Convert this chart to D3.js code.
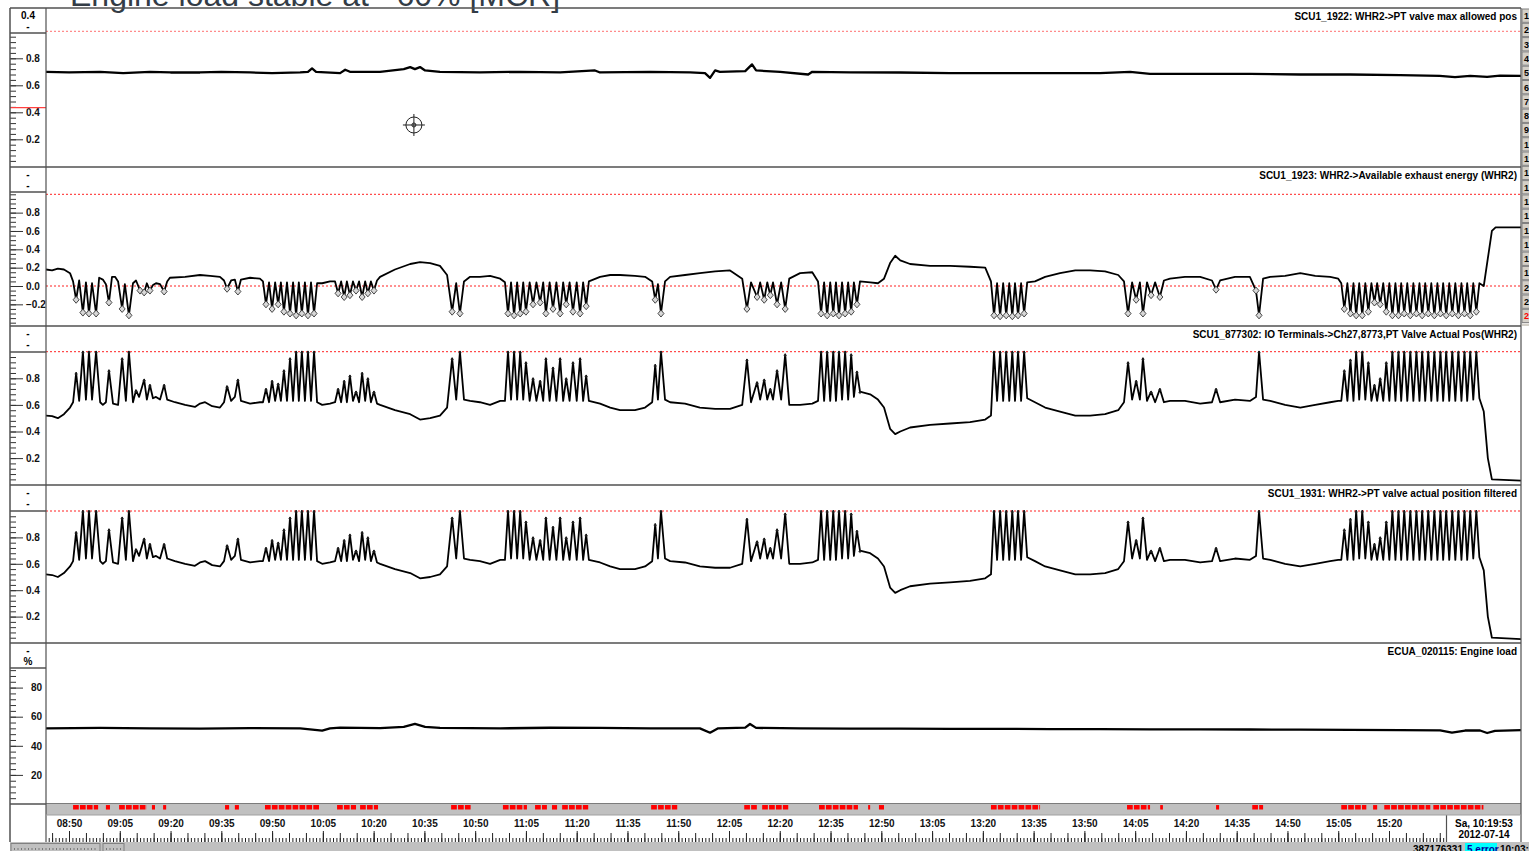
<!DOCTYPE html>
<html>
<head>
<meta charset="utf-8">
<script src="https://cdn.jsdelivr.net/npm/d3@7"></script>
<style>
  body { margin: 0; background: #fff; }
  svg { display: block; font-family: "Liberation Sans", Arial, sans-serif; }
</style>
</head>
<body>
<svg width="1529" height="851"></svg>
<script>
// ---- data: [minutes after 08:00, value] ----
var maxPos = [[43.2,0.70],[50,0.695],[59.2,0.70],[66,0.69],[73.9,0.70],[80,0.695],[88.7,0.695],[95,0.70],[103.5,0.695],[110,0.69],[118.3,0.695],[120.6,0.70],[121.8,0.725],[123.0,0.70],[130.1,0.69],[131.6,0.715],[133.0,0.70],[141.9,0.70],[148.9,0.72],[150.8,0.735],[152.2,0.72],[153.7,0.735],[155.2,0.71],[159.6,0.70],[171.4,0.695],[183.3,0.70],[195.1,0.695],[205.4,0.71],[206.9,0.695],[221.7,0.70],[233.5,0.695],[237.9,0.69],[239.4,0.655],[240.9,0.71],[242.3,0.70],[249.8,0.705],[251.8,0.755],[253.0,0.71],[260.1,0.70],[268.4,0.68],[269.6,0.70],[280.8,0.695],[295.6,0.695],[310.3,0.69],[325.1,0.69],[339.9,0.69],[354.6,0.69],[363.5,0.70],[369.4,0.685],[384.2,0.685],[399.0,0.685],[413.8,0.68],[428.5,0.68],[443.3,0.675],[455.0,0.67],[459.5,0.66],[464.0,0.67],[469.0,0.662],[472.8,0.672],[479.0,0.67]];

var exhaust = [[43.2,0.18],[45.0,0.17],[46.7,0.19],[48.5,0.18],[50.3,0.14],[51.2,0.05],[52.1,-0.15],[53.0,0.06],[54.1,-0.29],[55.0,0.04],[55.9,-0.30],[56.8,0.03],[58.0,-0.30],[58.9,0.09],[60.0,0.07],[60.9,0.02],[61.8,-0.18],[62.7,0.10],[63.6,0.10],[64.5,0.05],[65.7,-0.25],[66.5,0.02],[67.7,-0.32],[68.9,0.03],[69.8,0.06],[71.0,-0.05],[72.2,-0.07],[73.0,0.03],[73.9,-0.05],[74.8,0.01],[75.7,0.03],[76.9,0.02],[78.1,-0.06],[79.0,0.05],[79.8,0.09],[84.3,0.10],[88.7,0.12],[91.7,0.11],[94.6,0.10],[95.8,0.06],[96.7,-0.03],[97.9,0.06],[99.0,0.07],[99.9,-0.06],[100.8,0.07],[103.5,0.09],[106.4,0.08],
  [107.3,0.05],[108.2,-0.20],[109.1,0.04],[110.0,-0.25],[110.9,0.04],[111.8,-0.20],[112.6,0.04],[113.5,-0.28],[114.4,0.04],[115.3,-0.30],[116.2,0.04],[117.1,-0.32],[117.9,0.04],[118.8,-0.30],[119.7,0.04],[120.6,-0.32],[121.5,0.04],[122.4,-0.30],[123.3,0.03],[124.8,0.03],[127.1,0.05],[128.6,0.05],
  [129.5,-0.08],[130.4,0.05],[131.3,-0.12],[132.1,0.05],[133.0,-0.10],[133.9,0.05],[134.8,-0.05],[135.7,0.05],[136.6,-0.12],[137.5,0.05],[138.3,-0.08],[139.2,0.05],[140.1,-0.05],[141.0,0.06],
  [141.9,0.10],[146.3,0.18],[150.8,0.24],[153.7,0.26],[156.7,0.25],[159.6,0.22],[161.7,0.12],
  [163.2,-0.28],[164.4,0.03],[165.5,-0.30],[166.7,0.05],[168.5,0.10],[171.4,0.10],[174.4,0.11],[177.4,0.08],[178.8,0.04],
  [179.7,-0.30],[180.6,0.04],[181.5,-0.32],[182.4,0.04],[183.3,-0.30],[184.2,0.04],[185.0,-0.28],[186.1,0.04],[187.1,-0.20],[188.1,0.04],[189.2,-0.18],[190.1,0.04],[190.9,-0.30],[192.0,0.04],[193.0,-0.25],[194.0,0.04],[195.1,-0.30],[196.0,0.04],[196.9,-0.20],[197.9,0.04],[198.9,-0.28],[200.0,0.04],[201.0,-0.30],[201.9,0.04],[202.8,-0.22],[203.6,0.05],
  [206.9,0.10],[209.9,0.12],[212.8,0.12],[217.2,0.11],[220.2,0.10],[222.3,0.05],
  [223.2,-0.15],[224.0,0.02],[224.9,-0.30],[226.1,0.05],
  [227.6,0.10],[232.0,0.12],[236.4,0.14],[240.9,0.16],[245.3,0.17],[248.9,0.08],
  [250.3,-0.25],[251.5,0.04],[253.3,-0.12],[254.2,0.04],[255.4,-0.15],[256.3,0.04],[257.2,-0.10],[258.0,0.04],[259.2,-0.20],[260.4,0.04],[261.6,-0.25],[262.8,0.08],
  [266.0,0.14],[269.6,0.15],[271.3,0.05],
  [272.2,-0.30],[273.1,0.04],[274.0,-0.32],[274.9,0.04],[275.8,-0.30],[276.6,0.04],[277.5,-0.32],[278.4,0.04],[279.3,-0.30],[280.2,0.04],[281.1,-0.28],[281.9,0.04],[282.8,-0.20],[283.7,0.05],
  [286.7,0.04],[289.0,0.03],[290.8,0.08],[292.6,0.25],[294.1,0.33],[295.6,0.28],[298.5,0.24],[304.4,0.22],[310.3,0.22],[316.2,0.21],[320.7,0.20],[322.4,0.05],
  [323.3,-0.32],[324.2,0.03],[325.1,-0.33],[326.0,0.03],[326.9,-0.32],[327.8,0.03],[328.7,-0.33],[329.5,0.03],[330.4,-0.32],[331.3,0.03],[332.2,-0.30],[333.1,0.04],
  [335.4,0.05],[338.4,0.10],[342.8,0.14],[347.3,0.17],[351.7,0.17],[356.1,0.16],[360.0,0.12],[361.7,0.05],
  [362.9,-0.30],[364.1,0.04],[365.3,-0.15],[366.4,0.04],[367.3,-0.30],[368.5,0.04],[369.7,-0.10],[370.9,0.04],[372.3,-0.12],[373.5,0.06],
  [375.3,0.08],[379.7,0.10],[384.2,0.10],[387.7,0.06],[388.9,-0.04],[390.1,0.06],[394.5,0.10],[398.9,0.10],[400.7,-0.05],[401.6,-0.32],[402.8,0.08],
  [404.9,0.10],[409.3,0.11],[413.8,0.14],[418.2,0.11],[422.6,0.10],[425.0,0.08],
  [425.9,0.03],[426.8,-0.25],[427.7,0.03],[428.6,-0.30],[429.5,0.03],[430.3,-0.32],[431.2,0.03],[432.1,-0.32],[433.0,0.03],[433.9,-0.28],[434.8,0.03],[435.7,-0.18],[436.5,0.03],[437.4,-0.20],[438.3,0.03],[439.2,-0.28],[440.1,0.03],[441.0,-0.32],[441.9,0.03],[442.8,-0.32],[443.6,0.03],[444.5,-0.30],[445.4,0.03],[446.3,-0.32],[447.2,0.03],[448.1,-0.30],[449.0,0.03],[449.8,-0.32],[450.7,0.03],[451.6,-0.30],[452.5,0.03],[453.4,-0.32],[454.3,0.03],[455.2,-0.30],[456.0,0.03],[456.9,-0.32],[457.8,0.03],[458.7,-0.30],[459.6,0.03],[460.5,-0.32],[461.4,0.03],[462.3,-0.30],[463.1,0.03],[464.0,-0.32],[464.9,0.03],[465.8,-0.28],[466.7,0.03],
  [468.0,0.0],[469.2,0.30],[470.4,0.60],[471.5,0.64],[479.0,0.64]];

var valvePos = [[43.2,0.52],[45.0,0.515],[46.7,0.50],[48.5,0.53],[50.3,0.58],[51.2,0.62],
  [52.1,0.84],[53.0,0.63],[54.1,1.0],[55.0,0.64],[55.9,1.0],[56.8,0.64],[58.0,1.0],[59.2,0.62],[60.0,0.60],[60.9,0.62],[61.8,0.86],[63.0,0.61],[64.5,0.60],[65.7,0.95],[66.8,0.63],[67.7,1.0],[68.9,0.62],[69.8,0.71],[70.7,0.66],[72.2,0.79],[73.0,0.64],[73.9,0.75],[74.8,0.65],[75.7,0.66],[76.9,0.64],[78.1,0.75],[79.0,0.64],
  [81.3,0.62],[84.3,0.60],[87.2,0.585],[88.7,0.61],[90.2,0.62],[92.3,0.59],[94.6,0.58],[95.8,0.62],[96.7,0.74],[97.9,0.63],[99.0,0.66],[99.9,0.79],[100.8,0.63],[103.5,0.61],[106.4,0.62],
  [107.3,0.62],[108.2,0.72],[109.1,0.62],[110.0,0.78],[110.9,0.63],[111.8,0.76],[112.6,0.63],[113.5,0.86],[114.4,0.63],[115.3,0.95],[116.2,0.63],[117.1,1.0],[117.9,0.63],[118.8,1.0],[119.7,0.63],[120.6,1.0],[121.5,0.63],[122.4,1.0],[123.3,0.62],
  [124.8,0.60],[127.1,0.61],[128.6,0.62],
  [129.5,0.72],[130.4,0.62],[131.3,0.78],[132.1,0.62],[133.0,0.82],[133.9,0.63],[134.8,0.70],[135.7,0.62],[136.6,0.84],[137.5,0.63],[138.3,0.80],[139.2,0.62],[140.1,0.70],[141.0,0.61],
  [141.9,0.60],[146.3,0.56],[150.8,0.53],[153.7,0.49],[156.7,0.50],[159.6,0.52],[161.7,0.58],
  [163.2,0.95],[164.4,0.64],[165.5,1.0],[166.7,0.64],[168.5,0.63],[171.4,0.62],[174.4,0.60],[177.4,0.63],[178.8,0.63],
  [179.7,1.0],[180.6,0.64],[181.5,1.0],[182.4,0.64],[183.3,1.0],[184.2,0.64],[185.0,0.92],[186.1,0.63],[187.1,0.80],[188.1,0.63],[189.2,0.78],[190.1,0.63],[190.9,0.95],[192.0,0.63],[193.0,0.88],[194.0,0.63],[195.1,0.95],[196.0,0.63],[196.9,0.80],[197.9,0.63],[198.9,0.92],[200.0,0.63],[201.0,0.95],[201.9,0.63],[202.8,0.82],[203.6,0.63],
  [206.9,0.61],[209.9,0.58],[212.8,0.56],[217.2,0.56],[220.2,0.58],[222.3,0.62],
  [223.2,0.90],[224.0,0.64],[224.9,1.0],[226.1,0.64],
  [227.6,0.62],[232.0,0.61],[236.4,0.58],[240.9,0.57],[245.3,0.57],[248.9,0.60],
  [250.3,0.94],[251.5,0.62],[253.3,0.77],[254.2,0.64],[255.4,0.79],[256.3,0.64],[257.2,0.72],[258.0,0.64],[259.2,0.86],[260.4,0.64],[261.6,0.98],[262.8,0.60],
  [266.0,0.60],[269.6,0.61],[271.3,0.63],
  [272.2,1.0],[273.1,0.63],[274.0,1.0],[274.9,0.63],[275.8,1.0],[276.6,0.63],[277.5,1.0],[278.4,0.64],[279.3,1.0],[280.2,0.64],[281.1,0.98],[281.9,0.66],[282.8,0.85],[283.7,0.70],
  [286.7,0.68],[289.0,0.64],[290.8,0.58],[292.6,0.42],[294.1,0.38],[295.6,0.40],[298.5,0.43],[304.4,0.45],[310.3,0.46],[316.2,0.47],[320.7,0.49],[322.4,0.52],
  [323.3,1.0],[324.2,0.63],[325.1,1.0],[326.0,0.63],[326.9,1.0],[327.8,0.63],[328.7,1.0],[329.5,0.63],[330.4,1.0],[331.3,0.63],[332.2,1.0],[333.1,0.65],
  [335.4,0.62],[338.4,0.58],[342.8,0.55],[347.3,0.52],[351.7,0.52],[356.1,0.53],[360.0,0.56],[361.7,0.62],
  [362.9,0.92],[364.1,0.64],[365.3,0.78],[366.4,0.64],[367.3,0.95],[368.5,0.63],[369.7,0.70],[370.9,0.62],[372.3,0.72],[373.5,0.62],
  [375.3,0.63],[379.7,0.63],[384.2,0.61],[387.7,0.62],[388.9,0.72],[390.1,0.62],[394.5,0.64],[398.9,0.63],[400.7,0.66],[401.6,1.0],[402.8,0.64],
  [404.9,0.63],[409.3,0.60],[413.8,0.58],[418.2,0.60],[422.6,0.62],[425.0,0.63],
  [425.9,0.63],[426.8,0.86],[427.7,0.63],[428.6,0.94],[429.5,0.63],[430.3,1.0],[431.2,0.64],[432.1,1.0],[433.0,0.64],[433.9,0.92],[434.8,0.63],[435.7,0.75],[436.5,0.63],[437.4,0.80],[438.3,0.63],[439.2,0.92],[440.1,0.63],[441.0,1.0],[441.9,0.63],[442.8,1.0],[443.6,0.63],[444.5,1.0],[445.4,0.63],[446.3,1.0],[447.2,0.63],[448.1,1.0],[449.0,0.63],[449.8,1.0],[450.7,0.63],[451.6,1.0],[452.5,0.63],[453.4,1.0],[454.3,0.63],[455.2,1.0],[456.0,0.63],[456.9,1.0],[457.8,0.63],[458.7,1.0],[459.6,0.63],[460.5,1.0],[461.4,0.63],[462.3,1.0],[463.1,0.63],[464.0,1.0],[464.9,0.64],[465.8,1.0],[466.7,0.65],
  [468.0,0.55],[469.2,0.20],[470.4,0.04],[479.0,0.03]];

// the filtered channel reads the same as the raw one at this resolution
var valveFilt = valvePos;

var engineLoad = [[43.2,52],[59.2,52.3],[73.9,52],[88.7,51.8],[103.5,52.2],[118.3,52],[124.8,50.5],[127.1,52],[130.1,52.5],[141.9,52.2],[148.9,53],[152.2,55],[155.2,53],[159.6,52.3],[177.4,52],[192.1,52.4],[206.9,52.3],[221.7,52],[236.4,52],[239.4,49],[241.8,52],[249.8,52.5],[251.2,55],[253.0,52.3],[266.0,52],[280.8,51.8],[295.6,51.8],[310.3,51.6],[325.1,51.7],[339.9,51.5],[354.6,51.5],[369.4,51.3],[384.2,51.3],[399.0,51.2],[413.8,51.1],[428.5,51.0],[443.3,50.8],[455.1,50.6],[458.6,49.0],[462.5,50.5],[466.9,50.5],[469.0,48.8],[471.3,50.3],[479.0,50.8]];

// red event marks [from, to] in minutes after 08:00
var events = [[51.2,58.6],[60.9,62.1],[64.8,73.0],[74.5,75.4],[77.8,78.7],[96.1,97.3],[99.0,100.2],[107.9,124.2],[129.2,134.8],[136.0,141.3],[162.9,168.8],[178.2,185.3],[187.7,191.2],[192.7,194.2],[195.7,203.4],[222.0,229.7],[249.5,253.3],[254.8,262.5],[271.6,283.1],[286.1,286.7],[289.3,290.8],[322.4,336.9],[362.6,369.4],[372.4,373.2],[388.9,389.8],[399.6,402.8],[425.9,433.3],[435.3,436.5],[438.6,452.2],[453.1,467.9]];

var names = ["SCU1_1922: WHR2->PT valve max allowed pos",
             "SCU1_1923: WHR2->Available exhaust energy (WHR2)",
             "SCU1_877302: IO Terminals->Ch27,8773,PT Valve Actual Pos(WHR2)",
             "SCU1_1931: WHR2->PT valve actual position filtered",
             "ECUA_020115: Engine load"];
var units = [["0.4", "-"], ["-", "-"], ["-", "-"], ["-", "-"], ["-", "%"]];
var ticksFrac = [0.2, 0.4, 0.6, 0.8];
var ticksEnergy = [-0.2, 0.0, 0.2, 0.4, 0.6, 0.8];
var ticksLoad = [20, 40, 60, 80];
var timeLabels = ["08:50","09:05","09:20","09:35","09:50","10:05","10:20","10:35","10:50","11:05","11:20","11:35","11:50","12:05","12:20","12:35","12:50","13:05","13:20","13:35","13:50","14:05","14:20","14:35","14:50","15:05","15:20"];
var maxPosMark = 0.434;
var cursorAt = [151.9, 0.306];

// ---- layout ----
var svg = d3.select("svg"),
    W = 1529, H = 851,
    axL = 10, plotL = 46, plotR = 1521,
    lineCol = "#505050";

var base = new Date(2012, 6, 14, 8, 0, 0);
function at(m) { return new Date(base.getTime() + m * 60000); }

var x = d3.scaleTime().domain([at(43.2), at(479)]).range([plotL, plotR]);

var panels = [
  {data: maxPos, top: 8, head: 33, bottom: 167, dom: [0, 1], rng: [166.3, 31.3], ticks: ticksFrac, fmt: d3.format(".1f"), minor: [0, 1, 0.04], refs: [[1, "#ff7070"]], lw: 2.3, labX: 26},
  {data: exhaust, top: 167, head: 192, bottom: 326, dom: [0, 1], rng: [286, 194.3], ticks: ticksEnergy, fmt: d3.format(".1f"), minor: [-0.4, 1, 0.05], refs: [[1, "#ff2020"], [0, "#ff2020"]], lw: 1.8, labX: 26, diamonds: true},
  {data: valvePos, top: 326, head: 352, bottom: 485, dom: [0, 1], rng: [484.7, 351.7], ticks: ticksFrac, fmt: d3.format(".1f"), minor: [0, 1, 0.04], refs: [[1, "#ff2020"]], lw: 1.8, labX: 26, plus: true},
  {data: valveFilt, top: 485, head: 511, bottom: 643, dom: [0, 1], rng: [643, 511], ticks: ticksFrac, fmt: d3.format(".1f"), minor: [0, 1, 0.04], refs: [[1, "#ff2020"]], lw: 1.8, labX: 26, plus: true},
  {data: engineLoad, top: 643, head: 668, bottom: 804, dom: [0, 100], rng: [804, 658.5], ticks: ticksLoad, fmt: d3.format("d"), minor: [0, 92, 4], refs: [], lw: 2.3, labX: 31}
];

svg.append("rect").attr("width", W).attr("height", H).attr("fill", "#fff");

// title, cut off at the top of the screenshot
svg.append("text")
    .attr("x", 70).attr("y", 6)
    .attr("font-size", 32)
    .attr("fill", "#333c46")
    .text("Engine load stable at ~60% [MCR]");

var defs = svg.append("defs");

panels.forEach(function(p, i) {
    var y = d3.scaleLinear().domain(p.dom).range(p.rng);
    var g = svg.append("g");

    defs.append("clipPath").attr("id", "clip" + i)
        .append("rect").attr("x", plotL).attr("y", p.top)
        .attr("width", plotR - plotL).attr("height", p.bottom - p.top);

    // reference lines
    p.refs.forEach(function(r) {
        g.append("line")
            .attr("x1", plotL).attr("x2", plotR)
            .attr("y1", y(r[0])).attr("y2", y(r[0]))
            .attr("stroke", r[1]).attr("stroke-width", 1)
            .attr("stroke-dasharray", "2,2");
    });

    var line = d3.line()
        .x(function(d) { return x(at(d[0])); })
        .y(function(d) { return y(d[1]); });

    var plot = g.append("g").attr("clip-path", "url(#clip" + i + ")");
    plot.append("path")
        .datum(p.data)
        .attr("d", line)
        .attr("fill", "none")
        .attr("stroke", "#000")
        .attr("stroke-width", p.lw)
        .attr("stroke-linejoin", "round");

    if (p.diamonds) {
        plot.selectAll(".dia")
            .data(p.data.filter(function(d) { return d[1] < 0; }))
            .enter().append("path")
            .attr("class", "dia")
            .attr("d", "M0,-3.5L3,0L0,3.5L-3,0Z")
            .attr("transform", function(d) { return "translate(" + x(at(d[0])) + "," + y(d[1]) + ")"; })
            .attr("fill", "#d8d8d8")
            .attr("stroke", "#333")
            .attr("stroke-width", 0.9);
    }
    if (p.plus) {
        plot.selectAll(".pl")
            .data(p.data.filter(function(d) { return d[1] >= 0.7; }))
            .enter().append("path")
            .attr("class", "pl")
            .attr("d", "M-1.5,0H1.5M0,-1.5V1.5")
            .attr("transform", function(d) { return "translate(" + x(at(d[0])) + "," + (y(d[1]) + 1) + ")"; })
            .attr("stroke", "#222")
            .attr("stroke-width", 1);
    }

    // panel name
    g.append("text")
        .attr("x", plotR - 4).attr("y", p.top + 12)
        .attr("text-anchor", "end")
        .attr("font-size", 10).attr("font-weight", "bold")
        .text(names[i]);

    // left axis: minor and major ticks
    var minorVals = d3.range(p.minor[0], p.minor[1] + p.minor[2] / 2, p.minor[2])
        .filter(function(v) { return y(v) > p.head + 1 && y(v) < p.bottom - 1; });
    var minorAx = g.append("g").attr("transform", "translate(" + axL + ",0)")
        .call(d3.axisRight(y).tickValues(minorVals).tickSize(6).tickFormat(""));
    minorAx.select(".domain").remove();
    minorAx.selectAll("line").attr("stroke", "#333");

    var majorAx = g.append("g").attr("transform", "translate(" + axL + ",0)")
        .call(d3.axisRight(y).tickValues(p.ticks).tickSize(13).tickPadding(3).tickFormat(p.fmt));
    majorAx.select(".domain").remove();
    majorAx.selectAll("line").attr("stroke", "#333");
    majorAx.selectAll("text")
        .attr("x", p.labX - axL)
        .attr("font-size", 10).attr("font-weight", "bold")
        .attr("font-family", "Liberation Sans, Arial, sans-serif")
        .attr("fill", "#111");

    // unit box at the top of the axis column
    g.append("text").attr("x", 28).attr("y", p.top + 11)
        .attr("text-anchor", "middle").attr("font-size", 10).attr("font-weight", "bold")
        .text(units[i][0]);
    g.append("text").attr("x", 28).attr("y", p.top + 22)
        .attr("text-anchor", "middle").attr("font-size", 10).attr("font-weight", "bold")
        .text(units[i][1]);
    g.append("line")
        .attr("x1", axL).attr("x2", plotL)
        .attr("y1", p.head).attr("y2", p.head)
        .attr("stroke", lineCol).attr("stroke-width", 1.5);

    // panel separator
    g.append("line")
        .attr("x1", axL).attr("x2", plotR)
        .attr("y1", p.bottom).attr("y2", p.bottom)
        .attr("stroke", lineCol).attr("stroke-width", 1.5);

    if (i === 0) {
        g.append("line")
            .attr("x1", axL).attr("x2", plotL)
            .attr("y1", y(maxPosMark)).attr("y2", y(maxPosMark))
            .attr("stroke", "#ff4040").attr("stroke-width", 1.2);
        var cx = x(at(cursorAt[0])), cy = y(cursorAt[1]);
        var cur = g.append("g").attr("transform", "translate(" + cx + "," + cy + ")")
            .attr("fill", "none").attr("stroke", "#222").attr("stroke-width", 1);
        cur.append("circle").attr("r", 8);
        cur.append("circle").attr("r", 2);
        cur.append("path").attr("d", "M-11,0H11M0,-11V11");
    }
});

// top border
svg.append("line").attr("x1", axL).attr("x2", plotR).attr("y1", 8).attr("y2", 8)
    .attr("stroke", lineCol).attr("stroke-width", 1.5);

// event strip
svg.append("rect").attr("x", plotL).attr("y", 804).attr("width", plotR - plotL).attr("height", 11)
    .attr("fill", "#c0c0c0");
svg.append("g").selectAll("line")
    .data(events)
    .enter().append("line")
    .attr("x1", function(d) { return x(at(d[0])); })
    .attr("x2", function(d) { return x(at(d[1])); })
    .attr("y1", 807.3).attr("y2", 807.3)
    .attr("stroke", "#ff0000").attr("stroke-width", 4.5)
    .attr("stroke-dasharray", "5.7,1.2");

// time axis
var axisBottomY = 842;
var tMinor = d3.timeMinute.range(at(44), at(457));
var tMid = tMinor.filter(function(d) { return d.getMinutes() % 5 === 0; });
var parseHM = d3.timeParse("%Y-%m-%d %H:%M");
var tLab = timeLabels.map(function(s) { return parseHM("2012-07-14 " + s); });

var ax1 = svg.append("g").attr("transform", "translate(0," + axisBottomY + ")")
    .call(d3.axisTop(x).tickValues(tMinor).tickSize(4).tickFormat(""));
var ax2 = svg.append("g").attr("transform", "translate(0," + axisBottomY + ")")
    .call(d3.axisTop(x).tickValues(tMid).tickSize(9).tickFormat(""));
var ax3 = svg.append("g").attr("transform", "translate(0," + axisBottomY + ")")
    .call(d3.axisTop(x).tickValues(tLab).tickSize(11).tickPadding(4).tickFormat(d3.timeFormat("%H:%M")));
[ax1, ax2, ax3].forEach(function(a) {
    a.select(".domain").remove();
    a.selectAll("line").attr("stroke", "#222");
});
ax3.selectAll("text").attr("font-size", 10).attr("font-weight", "bold")
    .attr("font-family", "Liberation Sans, Arial, sans-serif").attr("fill", "#111");

// date box
svg.append("line").attr("x1", 1446.5).attr("x2", 1446.5).attr("y1", 815).attr("y2", 842)
    .attr("stroke", lineCol).attr("stroke-width", 1.2);
svg.append("text").attr("x", 1484).attr("y", 827).attr("text-anchor", "middle")
    .attr("font-size", 10).attr("font-weight", "bold").text("Sa, 10:19:53");
svg.append("text").attr("x", 1484).attr("y", 838).attr("text-anchor", "middle")
    .attr("font-size", 10).attr("font-weight", "bold").text("2012-07-14");

// frame lines
svg.append("line").attr("x1", axL).attr("x2", axL).attr("y1", 8).attr("y2", 842)
    .attr("stroke", lineCol).attr("stroke-width", 1.5);
svg.append("line").attr("x1", plotL).attr("x2", plotL).attr("y1", 8).attr("y2", 842)
    .attr("stroke", lineCol).attr("stroke-width", 1.2);
svg.append("line").attr("x1", plotR).attr("x2", plotR).attr("y1", 8).attr("y2", 842)
    .attr("stroke", lineCol).attr("stroke-width", 1.2);
svg.append("line").attr("x1", plotL).attr("x2", plotR).attr("y1", 815).attr("y2", 815)
    .attr("stroke", "#a0a0a0").attr("stroke-width", 1);

// channel buttons on the right edge
var btn = svg.append("g");
d3.range(22).forEach(function(k) {
    var by = 9 + k * 14.3;
    btn.append("rect").attr("x", 1522).attr("y", by).attr("width", 9).attr("height", 13.3)
        .attr("fill", "#d4d0c8").attr("stroke", "#808080").attr("stroke-width", 1);
    btn.append("text").attr("x", 1524).attr("y", by + 10)
        .attr("font-size", 9).attr("font-weight", "bold")
        .attr("fill", k === 21 ? "#ff0000" : "#000")
        .text(k + 1);
});
btn.append("rect").attr("x", 1522).attr("y", 9 + 22 * 14.3).attr("width", 9).attr("height", 326 - (9 + 22 * 14.3))
    .attr("fill", "#d4d0c8");

// status bar
svg.append("rect").attr("x", axL).attr("y", 842).attr("width", W - axL).attr("height", 9).attr("fill", "#c0c0c0");
svg.append("rect").attr("x", 11).attr("y", 843.5).attr("width", 89).attr("height", 9)
    .attr("fill", "#c0c0c0").attr("stroke", "#808080");
svg.append("line").attr("x1", 14).attr("x2", 97).attr("y1", 849).attr("y2", 849)
    .attr("stroke", "#333").attr("stroke-dasharray", "1,2.5");
svg.append("rect").attr("x", 103).attr("y", 843.5).attr("width", 21).attr("height", 9)
    .attr("fill", "#c0c0c0").attr("stroke", "#808080");
svg.append("line").attr("x1", 106).attr("x2", 121).attr("y1", 849).attr("y2", 849)
    .attr("stroke", "#333").attr("stroke-dasharray", "1,2.5");
svg.append("rect").attr("x", 1465).attr("y", 843).attr("width", 32).attr("height", 9).attr("fill", "#00ffff");
svg.append("text").attr("x", 1463).attr("y", 853).attr("text-anchor", "end")
    .attr("font-size", 10).attr("font-weight", "bold").text("387176331");
svg.append("text").attr("x", 1467).attr("y", 853)
    .attr("font-size", 10).attr("font-weight", "bold").attr("fill", "#0000a0").text("5 error");
svg.append("text").attr("x", 1500).attr("y", 853)
    .attr("font-size", 10).attr("font-weight", "bold").text("10:03:31");
</script>
</body>
</html>
